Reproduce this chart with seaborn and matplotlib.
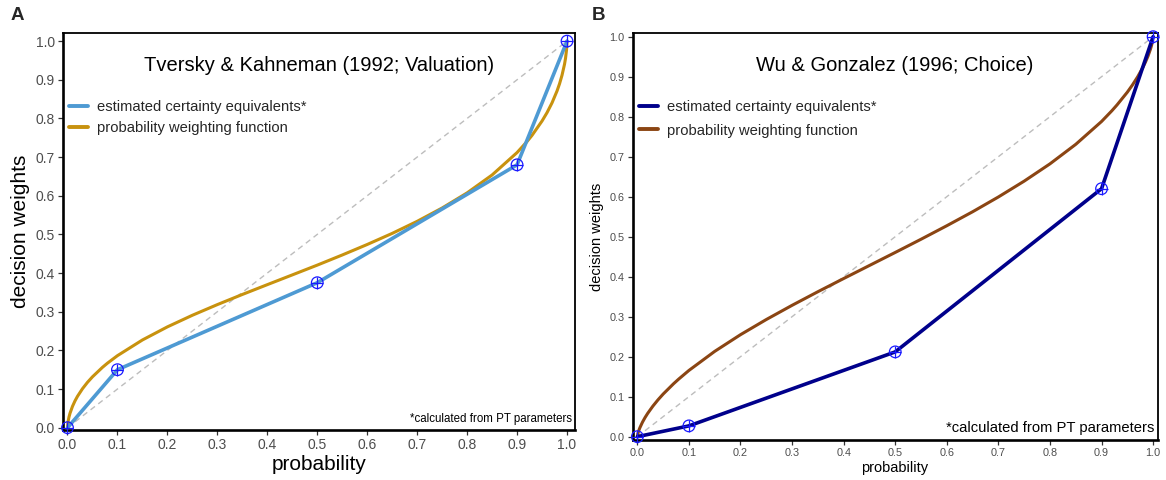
import matplotlib
matplotlib.use("Agg")
import matplotlib.pyplot as plt
import seaborn as sns
import pandas as pd

# ---- data ----
ce_p = [0.0, 0.1, 0.5, 0.9, 1.0]
tk_ce = [0.0, 0.15, 0.375, 0.68, 1.0]
wg_ce = [0.0, 0.027, 0.212, 0.62, 1.0]

pwf_p = [0.0, 0.001, 0.003, 0.005, 0.01, 0.015, 0.02, 0.03, 0.04, 0.05, 0.07, 0.08,
         0.1, 0.15, 0.2, 0.25, 0.3, 0.35, 0.4, 0.45, 0.5, 0.55, 0.6, 0.65, 0.7, 0.75,
         0.8, 0.85, 0.9, 0.92, 0.93, 0.95, 0.96, 0.97, 0.98, 0.985, 0.99, 0.995,
         0.997, 0.999, 1.0]
tk_pwf = [0.0, 0.0145, 0.0277, 0.0372, 0.0552, 0.0693, 0.0811, 0.1008, 0.1173, 0.1316,
          0.1561, 0.1669, 0.1863, 0.2269, 0.2608, 0.2908, 0.3184, 0.3446, 0.3700,
          0.3952, 0.4205, 0.4467, 0.4739, 0.5026, 0.5338, 0.5683, 0.6074, 0.6537,
          0.7117, 0.7403, 0.7563, 0.7933, 0.8150, 0.8403, 0.8710, 0.8895, 0.9117,
          0.9401, 0.9554, 0.9766, 1.0]
wg_pwf = [0.0, 0.0074, 0.0159, 0.0226, 0.0364, 0.0480, 0.0582, 0.0762, 0.0921, 0.1065,
          0.1321, 0.1438, 0.1656, 0.2133, 0.2550, 0.2929, 0.3284, 0.3624, 0.3954,
          0.4280, 0.4606, 0.4936, 0.5274, 0.5623, 0.5993, 0.6389, 0.6821, 0.7309,
          0.7880, 0.8148, 0.8294, 0.8613, 0.8795, 0.8997, 0.9228, 0.9361, 0.9512,
          0.9695, 0.9785, 0.9899, 1.0]

ticks = [0.0, 0.1, 0.2, 0.3, 0.4, 0.5, 0.6, 0.7, 0.8, 0.9, 1.0]
tick_labels = ["0.0", "0.1", "0.2", "0.3", "0.4", "0.5", "0.6", "0.7", "0.8", "0.9", "1.0"]

sns.set_style("white")
plt.rcParams["font.family"] = ["Liberation Sans", "DejaVu Sans"]

fig = plt.figure(figsize=(11.66, 4.8), dpi=100)

W, H = 1166, 480


def make_ax(l, r, t, b):
    return fig.add_axes([l / W, 1 - b / H, (r - l) / W, (b - t) / H])


axA = make_ax(63, 575, 33, 430)
axB = make_ax(632.7, 1157.5, 33.3, 440)

panels = [
    dict(ax=axA, ce=tk_ce, pwf=tk_pwf, c_ce="#4E9AD3", c_pwf="#C8920E",
         title="Tversky & Kahneman (1992; Valuation)", title_y=0.918,
         xlim=(-0.009, 1.016), ylim=(-0.006, 1.021), tick_fs=10, lab_fs=15,
         foot_fs=8.3, leg_anchor=(0.012, 0.832), leg_sp=0.5, letter="A", letter_x=11),
    dict(ax=axB, ce=wg_ce, pwf=wg_pwf, c_ce="#00008B", c_pwf="#8B4513",
         title="Wu & Gonzalez (1996; Choice)", title_y=0.92,
         xlim=(-0.009, 1.0085), ylim=(-0.0083, 1.0085), tick_fs=7.8, lab_fs=10.5,
         foot_fs=10.6, leg_anchor=(0.012, 0.835), leg_sp=0.62, letter="B", letter_x=592),
]

for pn in panels:
    ax = pn["ax"]
    ax.plot([0, 1], [0, 1], color="#BDBDBD", lw=1.0, dashes=(4, 3), zorder=1)
    df_ce = pd.DataFrame({"p": ce_p, "w": pn["ce"]})
    df_pwf = pd.DataFrame({"p": pwf_p, "w": pn["pwf"]})
    sns.lineplot(data=df_ce, x="p", y="w", ax=ax, color=pn["c_ce"], lw=2.6,
                 sort=False, estimator=None, label="estimated certainty equivalents*",
                 zorder=3)
    sns.lineplot(data=df_pwf, x="p", y="w", ax=ax, color=pn["c_pwf"], lw=2.2,
                 sort=False, estimator=None, label="probability weighting function",
                 zorder=2)
    ax.scatter(ce_p, pn["ce"], s=70, facecolors="none", edgecolors="#1A1AFF",
               linewidths=0.9, zorder=4, clip_on=False)
    ax.scatter(ce_p, pn["ce"], s=70, marker="+", color="#1A1AFF",
               linewidths=0.9, zorder=4, clip_on=False)

    ax.set_xlim(*pn["xlim"])
    ax.set_ylim(*pn["ylim"])
    ax.set_xticks(ticks)
    ax.set_xticklabels(tick_labels)
    ax.set_yticks(ticks)
    ax.set_yticklabels(tick_labels)
    ax.tick_params(axis="both", which="both", direction="out", length=3.5, width=0.9,
                   color="#333333", labelcolor="#4D4D4D", labelsize=pn["tick_fs"],
                   pad=2.5, bottom=True, left=True)
    ax.set_xlabel("probability", fontsize=pn["lab_fs"], color="black", labelpad=2)
    ax.set_ylabel("decision weights", fontsize=pn["lab_fs"], color="black", labelpad=4)
    for s in ["left", "bottom"]:
        ax.spines[s].set_linewidth(1.9)
        ax.spines[s].set_color("black")
    for s in ["top", "right"]:
        ax.spines[s].set_linewidth(1.3)
        ax.spines[s].set_color("black")
        ax.spines[s].set_visible(True)

    ax.text(0.5, pn["title_y"], pn["title"], fontsize=14.5, ha="center", va="center",
            transform=ax.transAxes, color="black")
    ax.text(0.994, 0.012, "*calculated from PT parameters", fontsize=pn["foot_fs"],
            ha="right", va="bottom", transform=ax.transAxes, color="black")
    leg = ax.legend(loc="upper left", bbox_to_anchor=pn["leg_anchor"], frameon=False,
                    fontsize=10.6, handlelength=1.3, handletextpad=0.6,
                    labelspacing=pn["leg_sp"], borderpad=0, borderaxespad=0)
    for h in leg.get_lines():
        h.set_linewidth(2.8)
    fig.text(pn["letter_x"] / W, 1 - 7 / H, pn["letter"], fontsize=13.5,
             fontweight="bold", ha="left", va="top")

fig.savefig("out.png", dpi=100)
